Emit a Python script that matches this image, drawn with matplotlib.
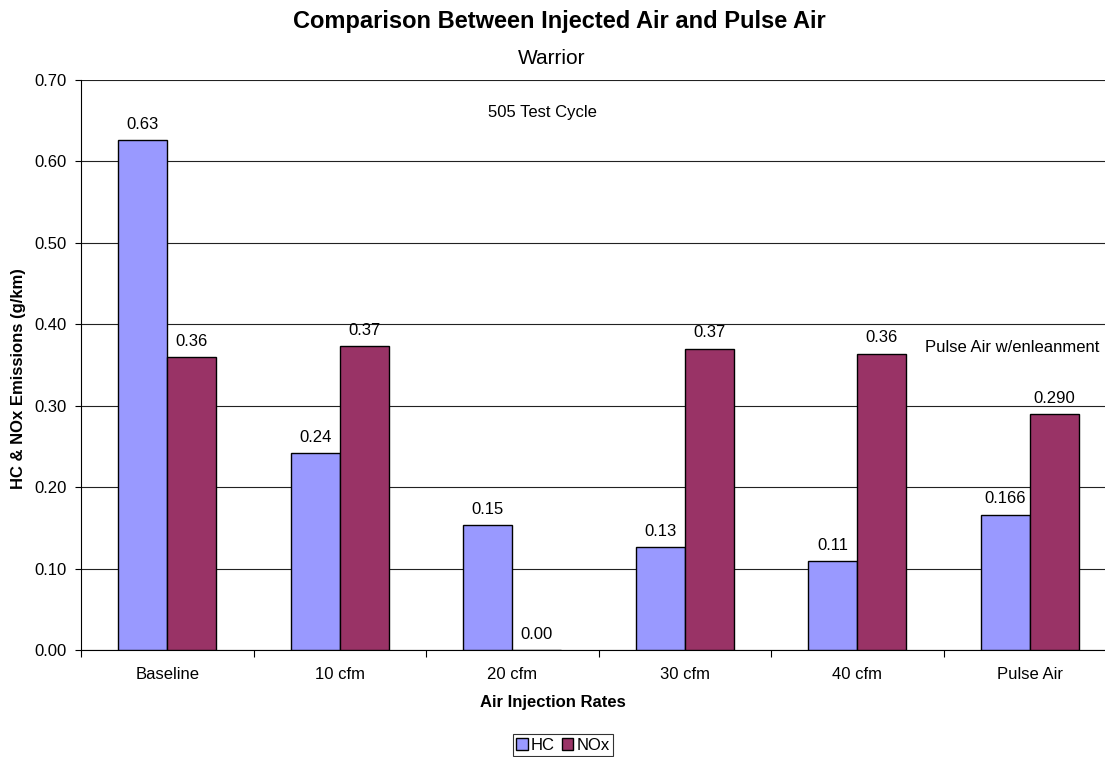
import matplotlib
matplotlib.use("Agg")
import matplotlib.pyplot as plt
import numpy as np

plt.rcParams['font.family'] = ['Liberation Sans', 'DejaVu Sans']

categories = ["Baseline", "10 cfm", "20 cfm", "30 cfm", "40 cfm", "Pulse Air"]
hc = [0.626, 0.242, 0.153, 0.126, 0.109, 0.166]
nox = [0.360, 0.373, 0.000, 0.370, 0.364, 0.290]
label_decimals = [2, 2, 2, 2, 2, 3]
yticks = [0.0, 0.1, 0.2, 0.3, 0.4, 0.5, 0.6, 0.7]

W, H = 1105, 757
fig = plt.figure(figsize=(W / 100, H / 100), dpi=100)
ax = fig.add_axes([81 / W, 1 - 650 / H, 1035 / W, 570 / H])

x = np.arange(len(categories))
w = 0.284
b1 = ax.bar(x - w / 2, hc, w, color="#9999FF", edgecolor="black", linewidth=1.0,
            label="HC", zorder=3)
b2 = ax.bar(x + w / 2, nox, w, color="#993366", edgecolor="black", linewidth=1.0,
            label="NOx", zorder=3)

for bars, vals in ((b1, hc), (b2, nox)):
    for rect, v, d in zip(bars, vals, label_decimals):
        ax.annotate(f"{v:.{d}f}", (rect.get_x() + rect.get_width() / 2, v),
                    xytext=(0, 6), textcoords="offset points",
                    ha="center", va="bottom", fontsize=12)

ax.set_xlim(-0.5, len(categories) - 0.5)
ax.set_ylim(0, 0.7)
ax.set_yticks(yticks)
ax.set_yticklabels([f"{t:.2f}" for t in yticks], fontsize=12)
ax.set_xticks(x)
ax.set_xticklabels(categories, fontsize=12)
ax.tick_params(axis="x", length=0, pad=12)
ax.set_xticks(np.arange(len(categories) + 1) - 0.5, minor=True)
ax.tick_params(axis="x", which="minor", length=5, direction="out", width=0.8)
ax.tick_params(axis="y", length=4, direction="out", width=0.8, pad=6)
ax.yaxis.grid(True, color="#222222", linewidth=0.8, zorder=0)
ax.set_axisbelow(True)
for s in ("top", "right"):
    ax.spines[s].set_visible(False)
ax.spines["left"].set_linewidth(0.8)
ax.spines["bottom"].set_linewidth(0.8)

ax.set_ylabel("HC & NOx Emissions (g/km)", fontsize=12, fontweight="bold")
ax.yaxis.set_label_coords(19 / W, 0.5, transform=fig.transFigure)
ax.yaxis.label.set_verticalalignment("center")
ax.set_xlabel("Air Injection Rates", fontsize=12, fontweight="bold")
ax.xaxis.set_label_coords(0.5, 1 - 703 / H, transform=fig.transFigure)
ax.xaxis.label.set_verticalalignment("center")

fig.text(559 / W, 1 - 28 / H, "Comparison Between Injected Air and Pulse Air",
         ha="center", va="baseline", fontsize=17, fontweight="bold")
fig.text(552 / W, 1 - 64 / H, "Warrior", ha="center", va="baseline", fontsize=15)
fig.text(542 / W, 1 - 117 / H, "505 Test Cycle", ha="center", va="baseline", fontsize=12)
fig.text(1099 / W, 1 - 352 / H, "Pulse Air w/enleanment", ha="right",
         va="baseline", fontsize=12)

leg = fig.legend(handles=[b1, b2], labels=["HC", "NOx"], loc="center",
                 bbox_to_anchor=(563 / W, 1 - 745 / H), ncol=2, fontsize=12,
                 frameon=True, fancybox=False, handlelength=0.7, handleheight=0.7,
                 handletextpad=0.2, columnspacing=0.4, borderpad=0.2,
                 borderaxespad=0)
leg.get_frame().set_edgecolor("black")
leg.get_frame().set_linewidth(0.8)

fig.savefig("out.png", dpi=100)
